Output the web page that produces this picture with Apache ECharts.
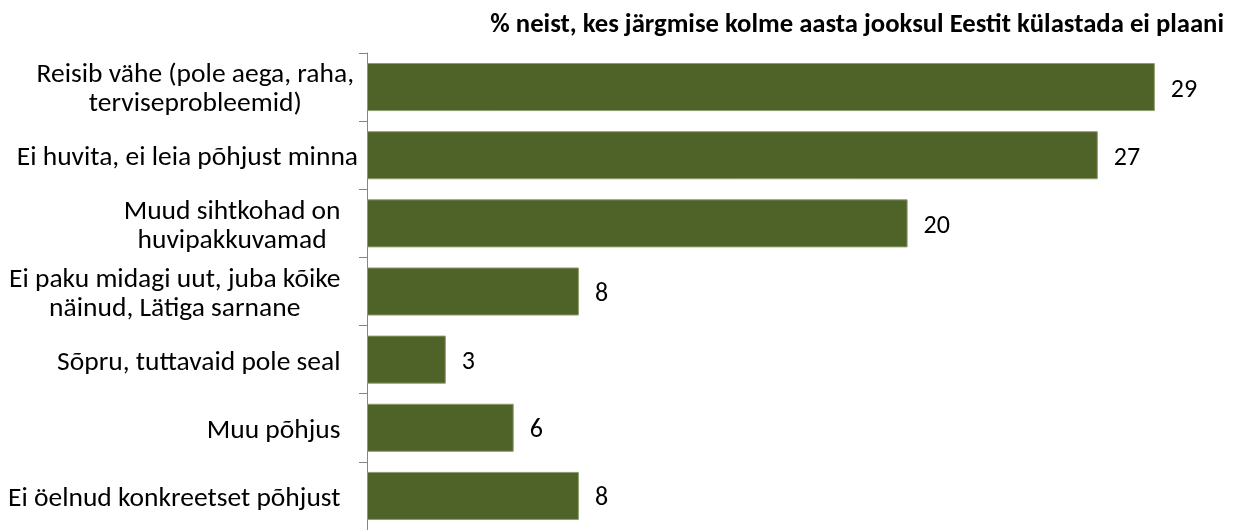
<!DOCTYPE html>
<html>
<head>
<meta charset="utf-8">
<script src="https://cdn.jsdelivr.net/npm/echarts@6/dist/echarts.min.js"></script>
<style>
html,body{margin:0;padding:0;background:#fff;}
#chart{width:1236px;height:530px;}
</style>
</head>
<body>
<div id="chart"></div>
<script>
var categories = [
  "Reisib vähe (pole aega, raha,\nterviseprobleemid)",
  "Ei huvita, ei leia põhjust minna",
  "Muud sihtkohad on\nhuvipakkuvamad",
  "Ei paku midagi uut, juba kõike\nnäinud, Lätiga sarnane",
  "Sõpru, tuttavaid pole seal",
  "Muu põhjus",
  "Ei öelnud konkreetset põhjust"
];
var values = [29, 26.9, 19.9, 7.8, 2.9, 5.4, 7.8];
var valueLabels = ["29", "27", "20", "8", "3", "6", "8"];
var titleText = "% neist, kes järgmise kolme aasta jooksul Eestit külastada ei plaani";

var FONT = "Carlito, 'Liberation Sans', sans-serif";
// extra right padding per category label (layout, mimics the original placement)
var labelPad = [4, 0, 17.5, 17.5, 17.5, 17.5, 17.5];

var catData = categories.map(function (c, i) {
  return {value: c, textStyle: {padding: [6, labelPad[i], 0, 0]}};
});

var chart = echarts.init(document.getElementById('chart'), null, {renderer: 'canvas'});
chart.setOption({
  animation: false,
  backgroundColor: '#ffffff',
  title: {
    text: titleText,
    right: 7,
    top: 7,
    textStyle: {fontFamily: FONT, fontSize: 26.7, fontWeight: 'bold', color: '#000'}
  },
  grid: {left: 367, top: 53, width: 815, height: 481},
  xAxis: {
    type: 'value', min: 0, max: 30, show: false
  },
  yAxis: {
    type: 'category',
    inverse: true,
    data: catData,
    axisLine: {show: true, lineStyle: {color: '#868686', width: 1}},
    axisTick: {show: true, length: 8, lineStyle: {color: '#868686'}},
    axisLabel: {
      margin: 9,
      color: '#000',
      fontFamily: FONT,
      fontSize: 27.5,
      lineHeight: 29,
      formatter: function (v) {
        return v.split('\n').map(function (s) { return '{c|' + s + '}'; }).join('\n');
      },
      rich: {c: {align: 'center', fontFamily: FONT, fontSize: 27.5, lineHeight: 29, color: '#000'}}
    }
  },
  series: [{
    type: 'bar',
    data: values,
    barCategoryGap: '29.5%',
    itemStyle: {color: '#4F6228', borderColor: '#8C9C6C', borderWidth: 1},
    label: {
      show: true,
      position: 'right',
      distance: 16,
      offset: [0, 3],
      color: '#000',
      fontFamily: FONT,
      fontSize: 26,
      formatter: function (p) { return valueLabels[p.dataIndex]; }
    }
  }]
});
</script>
</body>
</html>
